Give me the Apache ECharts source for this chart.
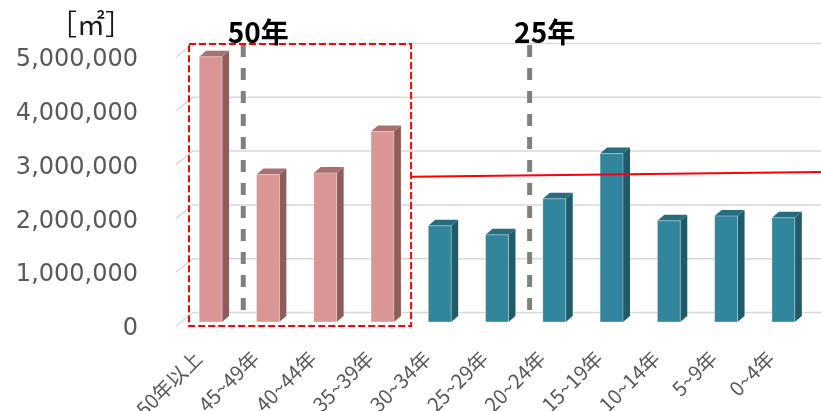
<!DOCTYPE html>
<html>
<head>
<meta charset="utf-8">
<script src="https://cdn.jsdelivr.net/npm/echarts/dist/echarts.min.js"></script>
<style>
  html, body { margin: 0; padding: 0; background: #ffffff; }
  #chart { width: 821px; height: 411px; }
</style>
</head>
<body>
<div id="chart"></div>
<script>
// Floor area by building age class [m²]
const categories = ['50年以上', '45~49年', '40~44年', '35~39年', '30~34年', '25~29年',
                    '20~24年', '15~19年', '10~14年', '5~9年', '0~4年'];
const areaValues = [4930000, 2740000, 2770000, 3540000, 1790000, 1620000,
                    2290000, 3130000, 1880000, 1970000, 1940000];
const oldClassCount = 4;                 // classes 35 years and older
const yTicks = [0, 1000000, 2000000, 3000000, 4000000, 5000000];
const refLineValues = [2700000, 2790000]; // start / end of the red level line
const periodMarks = [
  { after: 0, label: '50年' },
  { after: 5, label: '25年' }
];
const unitLabel = '［㎡］';

const palettes = {
  old:   { front: '#d99694', side: '#8d5d5b', top: '#a8706e', edge: 'rgba(255,255,255,0.35)' },
  young: { front: '#31859c', side: '#215a69', top: '#286d7f', edge: 'rgba(255,255,255,0.35)' }
};
const depthX = 7, depthY = -6;

function withCommas(v) {
  return String(v).replace(/\B(?=(\d{3})+(?!\d))/g, ',');
}

function bandEdge(api, index) {
  return api.coord([index, 0])[0] + api.size([1, 0])[0] / 2;
}

function renderGridLine(params, api) {
  const y = api.coord([0, api.value(1)])[1];
  const left = params.coordSys.x;
  return {
    type: 'polyline',
    shape: { points: [[left - 6, y + 4], [left + 11, y - 9.5], [api.getWidth(), y - 9.5]] },
    style: { stroke: '#d9d9d9', lineWidth: 1.5, fill: null }
  };
}

function renderBar(params, api) {
  const i = api.value(0);
  const v = api.value(1);
  const top = api.coord([i, v]);
  const base = api.coord([i, 0]);
  const w = api.size([1, 0])[0] * 0.4;
  const x0 = top[0] - w / 2, x1 = x0 + w;
  const p = i < oldClassCount ? palettes.old : palettes.young;
  return {
    type: 'group',
    children: [
      { type: 'polygon',
        shape: { points: [[x1, top[1]], [x1 + depthX, top[1] + depthY], [x1 + depthX, base[1] + depthY], [x1, base[1]]] },
        style: { fill: p.side } },
      { type: 'polygon',
        shape: { points: [[x0, top[1]], [x0 + depthX, top[1] + depthY], [x1 + depthX, top[1] + depthY], [x1, top[1]]] },
        style: { fill: p.top } },
      { type: 'rect',
        shape: { x: x0, y: top[1], width: w, height: base[1] - top[1] },
        style: { fill: p.front, stroke: p.edge, lineWidth: 1 } }
    ]
  };
}

function renderRangeBox(params, api) {
  const topY = api.coord([0, yTicks[yTicks.length - 1]])[1] - 9;
  const baseY = api.coord([0, 0])[1] + 4;
  const x0 = params.coordSys.x + 7;
  const x1 = bandEdge(api, api.value(1));
  return {
    type: 'rect',
    shape: { x: x0, y: topY, width: x1 - x0, height: baseY - topY },
    style: { fill: null, stroke: '#ff0000', lineWidth: 2, lineDash: [7, 3] }
  };
}

function renderPeriodMark(params, api) {
  const mark = periodMarks[params.dataIndex];
  const x = bandEdge(api, mark.after) + 4;
  const topY = api.coord([0, yTicks[yTicks.length - 1]])[1];
  const baseY = api.coord([0, 0])[1];
  return {
    type: 'group',
    children: [
      { type: 'line',
        shape: { x1: x, y1: topY - 8, x2: x, y2: baseY - 2 },
        style: { stroke: '#808080', lineWidth: 5, lineDash: [12, 11] } },
      { type: 'text',
        style: { x: x + 15, y: topY - 21, text: mark.label, fill: '#000000',
                 font: 'bold 28px "Noto Sans CJK JP", sans-serif',
                 align: 'center', verticalAlign: 'middle' } }
    ]
  };
}

function renderRefLine(params, api) {
  const x0 = bandEdge(api, oldClassCount - 1);
  const x1 = api.getWidth();
  const y0 = api.coord([0, refLineValues[0]])[1];
  const y1 = api.coord([0, refLineValues[1]])[1];
  return {
    type: 'line',
    shape: { x1: x0, y1: y0, x2: x1, y2: y1 },
    style: { stroke: '#ff0000', lineWidth: 2 }
  };
}

const chart = echarts.init(document.getElementById('chart'), null, { renderer: 'canvas' });
chart.setOption({
  animation: false,
  backgroundColor: '#ffffff',
  grid: [
    // bar plane
    { left: 182, right: 9, top: 53, bottom: 89, containLabel: false, outerBoundsMode: 'none' },
    // front edge of the floor, where the value labels sit
    { left: 182, right: 9, top: 60, bottom: 82, containLabel: false, outerBoundsMode: 'none' }
  ],
  title: {
    text: unitLabel, left: 44, top: 5,
    textStyle: { fontSize: 28, fontWeight: 'normal', color: '#1a1a1a', fontFamily: '"Noto Sans CJK JP", sans-serif' }
  },
  xAxis: [
    {
      type: 'category', gridIndex: 0,
      data: categories,
      axisLine: { show: false },
      axisTick: { show: false },
      axisLabel: {
        rotate: 45, interval: 0, margin: 20,
        padding: [0, 18, 0, 0],
        fontSize: 20, color: '#595959', fontFamily: '"Noto Sans CJK JP", sans-serif'
      }
    },
    { type: 'category', gridIndex: 1, data: categories, show: false }
  ],
  yAxis: [
    {
      type: 'value', gridIndex: 0,
      min: 0, max: 5000000, interval: 1000000,
      axisLine: { show: false },
      axisTick: { show: false },
      splitLine: { show: false },
      axisLabel: { show: false }
    },
    {
      type: 'value', gridIndex: 1,
      min: 0, max: 5000000, interval: 1000000,
      axisLine: { show: false },
      axisTick: { show: false },
      splitLine: { show: false },
      axisLabel: {
        margin: 44, fontSize: 24, color: '#595959',
        fontFamily: '"DejaVu Sans", sans-serif',
        formatter: withCommas
      }
    }
  ],
  series: [
    { type: 'custom', name: 'gridlines', z: 1, silent: true,
      data: yTicks.map(v => [0, v]), renderItem: renderGridLine },
    { type: 'custom', name: 'floor area', z: 2,
      data: areaValues.map((v, i) => [i, v]), renderItem: renderBar },
    { type: 'custom', name: 'ref line', z: 3, silent: true,
      data: [[0, refLineValues[0]]], renderItem: renderRefLine },
    { type: 'custom', name: 'old range', z: 4, silent: true,
      data: [[0, oldClassCount - 1]], renderItem: renderRangeBox },
    { type: 'custom', name: 'periods', z: 5, silent: true,
      data: periodMarks.map(m => [m.after, 0]), renderItem: renderPeriodMark }
  ]
});
</script>
</body>
</html>
